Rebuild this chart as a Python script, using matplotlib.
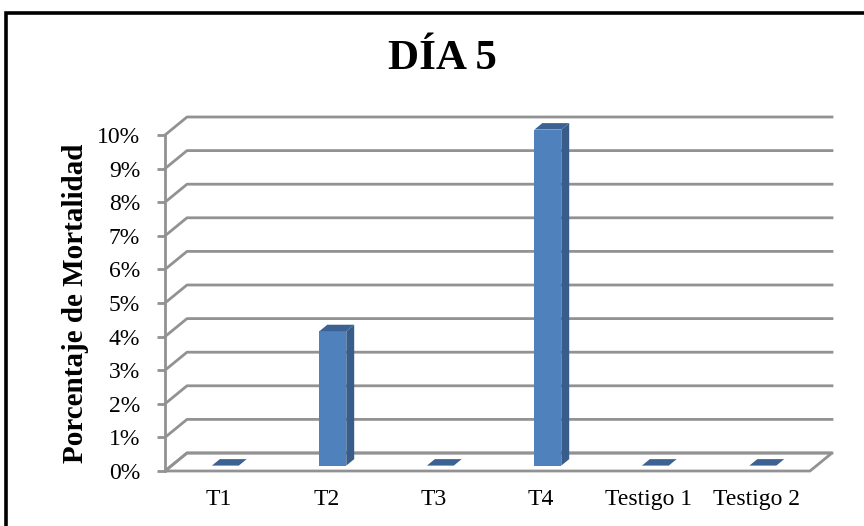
import matplotlib.pyplot as plt
from matplotlib.patches import Polygon, Rectangle

# mortalidad por tratamiento, dia 5
categorias = ['T1', 'T2', 'T3', 'T4', 'Testigo 1', 'Testigo 2']
mortalidad = [0.00, 0.04, 0.00, 0.10, 0.00, 0.00]
ticks_y = [0.00, 0.01, 0.02, 0.03, 0.04, 0.05, 0.06, 0.07, 0.08, 0.09, 0.10]
etiquetas_y = ['0%', '1%', '2%', '3%', '4%', '5%', '6%', '7%', '8%', '9%', '10%']

plt.rcParams['font.family'] = ['Liberation Serif', 'DejaVu Serif']

W, H = 864, 526
fig = plt.figure(figsize=(W / 100, H / 100), dpi=100)
fig.patch.set_facecolor('white')

# marco negro del grafico
fig.patches.append(Rectangle((6 / W, -0.05), 1.2, 1 - 13 / H + 0.05, transform=fig.transFigure,
                             fill=False, edgecolor='black', linewidth=2.6))

ax = fig.add_axes([165 / W, 1 - 471 / H, 645 / W, 336 / H])
ax.set_xlim(-0.5, 5.5)
ax.set_ylim(0, 0.10)
ax.set_facecolor('none')

# profundidad de la pared del fondo en unidades de datos
DX = 22 / (645 / 6)
DY = 18 / (336 / 0.10)
gris = '#929292'


def p(x, v, d):
    return (x + d * DX, v + d * DY)


# piso
ax.add_patch(Polygon([p(-0.5, 0, 0), p(5.5, 0, 0), p(5.5, 0, 1), p(-0.5, 0, 1)],
                     closed=True, facecolor='white', edgecolor=gris, linewidth=2,
                     clip_on=False, zorder=1))

# lineas de division en la pared del fondo
for v in ticks_y:
    xs, ys = zip(p(-0.5, v, 0), p(-0.5, v, 1), p(5.5, v, 1))
    ax.plot(xs, ys, color=gris, linewidth=2, clip_on=False, zorder=1)

# barras 3d
ancho = 0.25
d0, d1 = 0.30, 0.66
frente = '#4f81bd'
lado = '#385d8a'
tapa = '#3c6193'
pos = [i + d0 * DX for i in range(len(categorias))]
ax.bar(pos, mortalidad, width=ancho, bottom=d0 * DY, color=frente, zorder=3, clip_on=False)
for i, v in enumerate(mortalidad):
    x0, x1 = i - ancho / 2, i + ancho / 2
    if v > 0:
        ax.add_patch(Polygon([p(x1, 0, d0), p(x1, v, d0), p(x1, v, d1), p(x1, 0, d1)],
                             closed=True, facecolor=lado, edgecolor='none', zorder=3, clip_on=False))
    ax.add_patch(Polygon([p(x0, v, d0), p(x1, v, d0), p(x1, v, d1), p(x0, v, d1)],
                         closed=True, facecolor=tapa, edgecolor='none', zorder=3, clip_on=False))

# ejes
for s in ['top', 'right', 'bottom']:
    ax.spines[s].set_visible(False)
ax.spines['left'].set_color(gris)
ax.spines['left'].set_linewidth(2)
ax.set_yticks(ticks_y)
ax.set_yticklabels(etiquetas_y, fontsize=17)
ax.tick_params(axis='y', length=6, width=2, color=gris, pad=12)
ax.set_xticks(range(len(categorias)))
ax.set_xticklabels(categorias, fontsize=17)
ax.tick_params(axis='x', length=0, pad=13)

ax.set_ylabel('Porcentaje de Mortalidad', fontsize=21, fontweight='bold', labelpad=6)
fig.text(442 / W, 1 - 59 / H, 'DÍA 5', fontsize=31, fontweight='bold',
         ha='center', va='center')

fig.savefig('out.png', dpi=100)
plt.close()
